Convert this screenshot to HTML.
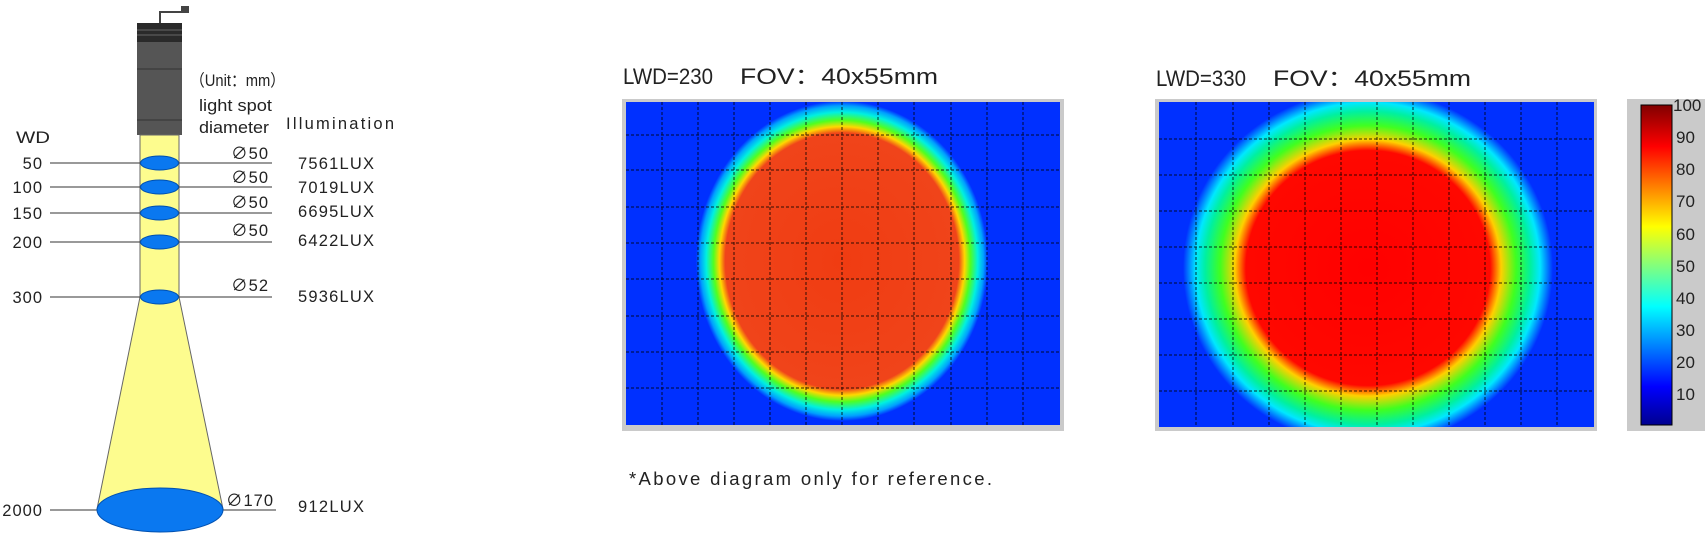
<!DOCTYPE html>
<html><head><meta charset="utf-8"><style>
html,body{margin:0;padding:0;background:#fff;}
svg{display:block;}
text{font-family:"Liberation Sans","Noto Sans CJK SC",sans-serif;fill:#222;}
</style></head><body>
<svg width="1706" height="535" viewBox="0 0 1706 535" xmlns="http://www.w3.org/2000/svg">
<defs>
<radialGradient id="g1" cx="0.5" cy="0.5" r="0.5">
<stop offset="0" stop-color="#f03c12"/>
<stop offset="0.80" stop-color="#f0441a"/>
<stop offset="0.84" stop-color="#ffd800"/>
<stop offset="0.88" stop-color="#50ff20"/>
<stop offset="0.93" stop-color="#00f0e0"/>
<stop offset="0.97" stop-color="#00a0ff"/>
<stop offset="1" stop-color="#0030ff"/>
</radialGradient>
<radialGradient id="g2" cx="0.5" cy="0.5" r="0.5">
<stop offset="0" stop-color="#ff0000"/>
<stop offset="0.66" stop-color="#ff0800"/>
<stop offset="0.72" stop-color="#ffd000"/>
<stop offset="0.80" stop-color="#40ff20"/>
<stop offset="0.88" stop-color="#00f0a0"/>
<stop offset="0.93" stop-color="#00e8ff"/>
<stop offset="1" stop-color="#0030ff"/>
</radialGradient>
<linearGradient id="cb" x1="0" y1="1" x2="0" y2="0">
<stop offset="0" stop-color="#00008f"/>
<stop offset="0.12" stop-color="#0000ff"/>
<stop offset="0.37" stop-color="#00ffff"/>
<stop offset="0.62" stop-color="#ffff00"/>
<stop offset="0.87" stop-color="#ff0000"/>
<stop offset="1" stop-color="#800000"/>
</linearGradient>
<clipPath id="c1"><rect x="626" y="102" width="434" height="323"/></clipPath>
<clipPath id="c2"><rect x="1159" y="102" width="435" height="325"/></clipPath>
</defs>

<!-- LEFT DIAGRAM -->
<path d="M160 23 V12 H182" stroke="#444" stroke-width="2" fill="none"/>
<rect x="181" y="6" width="8" height="7" fill="#444"/>
<rect x="137" y="23" width="45" height="112" fill="#555"/>
<rect x="137" y="23" width="45" height="19" fill="#2a2a2a"/>
<line x1="137" y1="30" x2="182" y2="30" stroke="#666"/>
<line x1="137" y1="35" x2="182" y2="35" stroke="#666"/>
<line x1="137" y1="69" x2="182" y2="69" stroke="#333"/>
<line x1="137" y1="120" x2="182" y2="120" stroke="#333"/>
<path d="M140 135 H179 V297 L223 509 H97 L140 297 Z" fill="#fdfc8e" stroke="#666" stroke-width="1"/>
<g stroke="#333" stroke-width="1">
<line x1="50" y1="163" x2="272" y2="163"/>
<line x1="50" y1="187" x2="272" y2="187"/>
<line x1="50" y1="213" x2="272" y2="213"/>
<line x1="50" y1="242" x2="272" y2="242"/>
<line x1="50" y1="297" x2="272" y2="297"/>
<line x1="50" y1="510" x2="276" y2="510"/>
</g>
<g fill="#0a78f0" stroke="#0050b0" stroke-width="1">
<ellipse cx="159.5" cy="163" rx="19" ry="7"/>
<ellipse cx="159.5" cy="187" rx="19" ry="7"/>
<ellipse cx="159.5" cy="213" rx="19" ry="7"/>
<ellipse cx="159.5" cy="242" rx="19" ry="7"/>
<ellipse cx="159.5" cy="297" rx="19" ry="7"/>
<ellipse cx="160" cy="510" rx="63" ry="22"/>
</g>
<g font-size="16.5" text-anchor="end" letter-spacing="1">
<text x="43" y="169">50</text>
<text x="43" y="193">100</text>
<text x="43" y="219">150</text>
<text x="43" y="248">200</text>
<text x="43" y="303">300</text>
<text x="43" y="516">2000</text>
<text x="269" y="159">∅50</text>
<text x="269" y="183">∅50</text>
<text x="269" y="208">∅50</text>
<text x="269" y="236">∅50</text>
<text x="269" y="291">∅52</text>
<text x="274" y="506">∅170</text>
</g>
<g font-size="16.5">
<text x="16" y="143" textLength="34" lengthAdjust="spacingAndGlyphs">WD</text>
<text x="298" y="169" textLength="76">7561LUX</text>
<text x="298" y="193" textLength="76">7019LUX</text>
<text x="298" y="217" textLength="76">6695LUX</text>
<text x="298" y="246" textLength="76">6422LUX</text>
<text x="298" y="302" textLength="76">5936LUX</text>
<text x="298" y="512" textLength="66">912LUX</text>
<text x="286" y="129" textLength="108">Illumination</text>
<text x="190" y="86" textLength="95" lengthAdjust="spacingAndGlyphs">（Unit：mm）</text>
<text x="199" y="111" textLength="73" lengthAdjust="spacingAndGlyphs">light spot</text>
<text x="199" y="133" textLength="70" lengthAdjust="spacingAndGlyphs">diameter</text>
</g>

<!-- HEATMAP 1 -->
<g font-size="22">
<text x="623" y="84" textLength="90" lengthAdjust="spacingAndGlyphs">LWD=230</text>
<text x="740" y="84" textLength="198" lengthAdjust="spacingAndGlyphs">FOV：40x55mm</text>
<text x="1156" y="86" textLength="90" lengthAdjust="spacingAndGlyphs">LWD=330</text>
<text x="1273" y="86" textLength="198" lengthAdjust="spacingAndGlyphs">FOV：40x55mm</text>
</g>
<rect x="622" y="99" width="442" height="332" fill="#cacaca"/>
<g clip-path="url(#c1)">
<rect x="626" y="102" width="434" height="323" fill="#0030ff"/>
<ellipse cx="842" cy="261" rx="146" ry="160" fill="url(#g1)"/>
<g stroke="#000" stroke-width="1" stroke-dasharray="3,2" opacity="0.8">
<path d="M662 102V425M698 102V425M734 102V425M770 102V425M806 102V425M842 102V425M878 102V425M914 102V425M951 102V425M987 102V425M1023 102V425"/>
<path d="M626 135H1060M626 170H1060M626 207H1060M626 243H1060M626 279H1060M626 316H1060M626 352H1060M626 388H1060"/>
</g>
</g>

<!-- HEATMAP 2 -->
<rect x="1155" y="99" width="442" height="332" fill="#cacaca"/>
<g clip-path="url(#c2)">
<rect x="1159" y="102" width="435" height="325" fill="#0030ff"/>
<ellipse cx="1368" cy="268" rx="185" ry="178" fill="url(#g2)"/>
<g stroke="#000" stroke-width="1" stroke-dasharray="3,2" opacity="0.8">
<path d="M1196 102V427M1233 102V427M1269 102V427M1305 102V427M1341 102V427M1377 102V427M1413 102V427M1449 102V427M1485 102V427M1521 102V427M1557 102V427"/>
<path d="M1159 139H1594M1159 175H1594M1159 211H1594M1159 247H1594M1159 283H1594M1159 319H1594M1159 355H1594M1159 391H1594"/>
</g>
</g>

<!-- COLORBAR -->
<rect x="1627" y="99" width="78" height="332" fill="#cacaca"/>
<rect x="1641" y="105" width="31" height="320" fill="url(#cb)" stroke="#000" stroke-width="1"/>
<g font-size="17" fill="#222">
<text x="1673" y="111">100</text>
<text x="1676" y="143">90</text>
<text x="1676" y="175">80</text>
<text x="1676" y="207">70</text>
<text x="1676" y="240">60</text>
<text x="1676" y="272">50</text>
<text x="1676" y="304">40</text>
<text x="1676" y="336">30</text>
<text x="1676" y="368">20</text>
<text x="1676" y="400">10</text>
</g>

<text x="629" y="485" font-size="18.5" textLength="363">*Above diagram only for reference.</text>
</svg>
</body></html>
